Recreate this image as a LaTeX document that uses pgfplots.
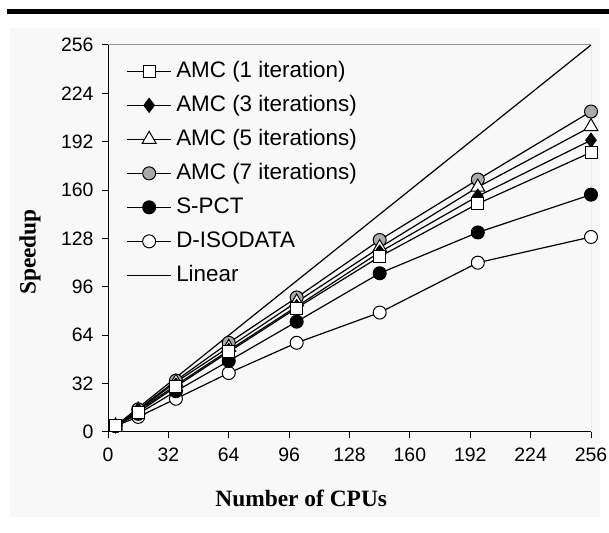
\documentclass[border=0pt]{standalone}
\usepackage{fontspec}
\setmainfont{Liberation Sans}
\newfontfamily\labelfont{Liberation Serif}
\usepackage{pgfplots}
\pgfplotsset{compat=1.18}

\definecolor{markgray}{RGB}{170,170,170}
\definecolor{framegray}{RGB}{150,150,150}
\definecolor{bggray}{RGB}{248,248,248}

\begin{document}
\begin{tikzpicture}
\useasboundingbox (0bp,0bp) rectangle (609bp,533bp);
\fill[bggray] (10bp,16bp) rectangle (600bp,505bp);
\fill[black] (7bp,519bp) rectangle (609bp,524bp);
\begin{axis}[
  at={(108bp,101bp)}, anchor=south west,
  width=483bp, height=387bp, scale only axis,
  xmin=0, xmax=256, ymin=0, ymax=256,
  xtick={0,32,...,256}, ytick={0,32,...,256},
  axis x line*=bottom, axis y line*=left,
  axis line style={black, line width=1bp, -},
  tick align=outside, major tick length=6bp,
  tick style={black, line width=1bp},
  tick label style={font=\fontsize{19.5}{22}\selectfont},
  x tick label style={yshift=-6bp},
  y tick label style={xshift=-5bp},
  /pgf/number format/assume math mode=true,
  xlabel={Number of CPUs},
  ylabel={Speedup},
  every axis x label/.style={at={(rel axis cs:0.4,-0.1705)}, anchor=center,
    font=\labelfont\bfseries\fontsize{23.5}{26}\selectfont},
  every axis y label/.style={at={(rel axis cs:-0.1615,0.465)}, rotate=90, anchor=center,
    font=\labelfont\bfseries\fontsize{23.5}{26}\selectfont},
  legend cell align=left,
  legend style={draw=none, fill=none, at={(rel axis cs:0.038,0.966)}, anchor=north west,
    font=\fontsize{22.5}{26}\selectfont, inner sep=0pt, row sep=8bp,
    nodes={inner ysep=2bp, inner xsep=4.5bp, text height=17bp, text depth=5bp}},
  legend image code/.code={%
    \draw[mark repeat=2, mark phase=2, #1] plot coordinates {(0bp,0bp) (22bp,0bp) (44bp,0bp)};},
  every axis plot/.append style={black, line width=1.2bp},
]
% drawn back to front; legend entries added below in the reference order
\addplot[no marks, forget plot] coordinates {(4,4) (256,256)};
\addplot[mark=*, mark size=6.5bp, mark options={fill=white, line width=1bp}, forget plot] coordinates {
  (4,4) (16,10) (36,22) (64,39) (100,59) (144,79) (196,112) (256,129)};
\addplot[mark=*, mark size=6.5bp, mark options={fill=black, line width=1bp}, forget plot] coordinates {
  (4,4) (16,12) (36,27) (64,47) (100,73) (144,105) (196,132) (256,157)};
\addplot[mark=*, mark size=6.5bp, mark options={fill=markgray, line width=1bp}, forget plot] coordinates {
  (4,4) (16,15) (36,34) (64,59) (100,89) (144,127) (196,167) (256,212)};
\addplot[mark=triangle*, mark size=8bp, mark options={fill=white, line width=1bp}, forget plot] coordinates {
  (4,4) (16,14.5) (36,33) (64,56) (100,86) (144,122) (196,162) (256,202)};
\addplot[mark=diamond*, mark size=7bp, mark options={fill=black, line width=1bp}, forget plot] coordinates {
  (4,4) (16,14) (36,31) (64,54) (100,83) (144,119) (196,156) (256,193)};
\addplot[mark=square*, mark size=6bp, mark options={fill=white, line width=1bp}, forget plot] coordinates {
  (4,4) (16,13) (36,30) (64,53) (100,82) (144,116) (196,151) (256,185)};

\addlegendimage{black, line width=1.2bp, mark=square*, mark size=6bp, mark options={fill=white, line width=1bp}}
\addlegendentry{AMC (1 iteration)}
\addlegendimage{black, line width=1.2bp, mark=diamond*, mark size=7bp, mark options={fill=black, line width=1bp}}
\addlegendentry{AMC (3 iterations)}
\addlegendimage{black, line width=1.2bp, mark=triangle*, mark size=8bp, mark options={fill=white, line width=1bp}}
\addlegendentry{AMC (5 iterations)}
\addlegendimage{black, line width=1.2bp, mark=*, mark size=6.5bp, mark options={fill=markgray, line width=1bp}}
\addlegendentry{AMC (7 iterations)}
\addlegendimage{black, line width=1.2bp, mark=*, mark size=6.5bp, mark options={fill=black, line width=1bp}}
\addlegendentry{S-PCT}
\addlegendimage{black, line width=1.2bp, mark=*, mark size=6.5bp, mark options={fill=white, line width=1bp}}
\addlegendentry{D-ISODATA}
\addlegendimage{black, line width=1.2bp, no marks}
\addlegendentry{Linear}
\draw[framegray, line width=1bp] (rel axis cs:0,1) -- (rel axis cs:1,1) -- (rel axis cs:1,0);
\end{axis}
\end{tikzpicture}
\end{document}
